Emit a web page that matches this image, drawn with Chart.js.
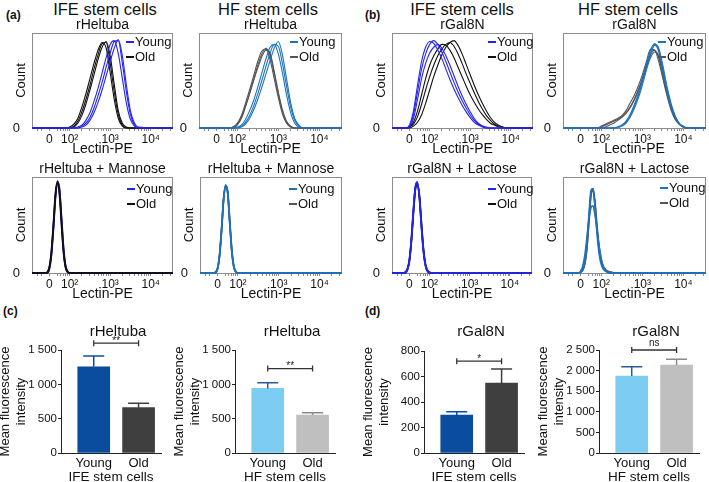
<!DOCTYPE html>
<html>
<head>
<meta charset="utf-8">
<script src="https://cdn.jsdelivr.net/npm/chart.js@4.4.1/dist/chart.umd.min.js"></script>
<style>
  html, body { margin: 0; padding: 0; background: #fff; }
  body { width: 709px; height: 482px; position: relative; overflow: hidden;
         font-family: "Liberation Sans", Arial, Helvetica, sans-serif; color: #111; }
  canvas { position: absolute; }
  .head { position: absolute; top: 0; font-size: 16.5px; line-height: 18px; white-space: nowrap; transform: translateX(-50%); }
  .tag { position: absolute; font-size: 12px; line-height: 12px; font-weight: bold; }
</style>
</head>
<body>
<div class="head" style="left:105px">IFE stem cells</div>
<div class="head" style="left:268px">HF stem cells</div>
<div class="head" style="left:462px">IFE stem cells</div>
<div class="head" style="left:628px">HF stem cells</div>
<div class="tag" style="left:6px;top:9px">(a)</div>
<div class="tag" style="left:365px;top:9px">(b)</div>
<div class="tag" style="left:3px;top:305px">(c)</div>
<div class="tag" style="left:365px;top:305px">(d)</div>

<canvas id="a1" width="165" height="147" style="left:12px;top:11px"></canvas>
<canvas id="a2" width="167" height="147" style="left:179px;top:11px"></canvas>
<canvas id="b1" width="165" height="147" style="left:372px;top:11px"></canvas>
<canvas id="b2" width="167" height="147" style="left:543px;top:11px"></canvas>
<canvas id="a3" width="165" height="148" style="left:12px;top:155px"></canvas>
<canvas id="a4" width="166" height="148" style="left:180px;top:155px"></canvas>
<canvas id="b3" width="164" height="148" style="left:372px;top:155px"></canvas>
<canvas id="b4" width="167" height="148" style="left:543px;top:155px"></canvas>
<canvas id="c1" width="167" height="175" style="left:-2px;top:310px"></canvas>
<canvas id="c2" width="167" height="175" style="left:172px;top:310px"></canvas>
<canvas id="d1" width="167" height="175" style="left:361px;top:310px"></canvas>
<canvas id="d2" width="167" height="175" style="left:536px;top:310px"></canvas>

<script>
// flow axis is in decades: 2 = 10², 3 = 10³, 4 = 10⁴; 1.5 is where the "0" mark sits
const histTickValues = [1.5, 2, 3, 4];
const histTickLabels = ['0', '10²', '10³', '10⁴'];
const xMin = 1.07, xMax = 4.55;

// (a) IFE rHeltuba
const gridA1 = [1.9, 2.0, 2.1, 2.2, 2.3, 2.4, 2.5, 2.6, 2.7, 2.8, 2.9, 3.0, 3.1, 3.2, 3.3, 3.4, 3.5, 3.6, 3.7];
const a1Young = [
  [0, 0, 0, 1, 3, 8, 16, 28, 42, 58, 74, 88, 92, 78, 52, 26, 9, 2, 0],
  [0, 0, 0, 0, 2, 5, 11, 21, 34, 48, 64, 79, 91, 92, 68, 38, 14, 3, 0],
  [0, 0, 0, 0, 1, 3, 8, 16, 27, 40, 55, 70, 84, 93, 76, 45, 18, 5, 1]
];
const a1Old = [
  [0, 1, 4, 10, 22, 36, 52, 68, 82, 90, 84, 58, 30, 10, 2, 0, 0, 0, 0],
  [0, 0, 2, 7, 17, 30, 45, 62, 77, 89, 90, 68, 38, 14, 3, 0, 0, 0, 0],
  [0, 0, 1, 5, 13, 25, 40, 56, 72, 85, 91, 76, 46, 18, 5, 1, 0, 0, 0]
];

// (a) HF rHeltuba
const gridA2 = [1.8, 1.9, 2.0, 2.1, 2.2, 2.3, 2.4, 2.5, 2.6, 2.7, 2.8, 2.9, 3.0, 3.1, 3.2, 3.3, 3.4, 3.5, 3.6];
const a2Young = [
  [0, 0, 1, 3, 9, 18, 29, 43, 58, 73, 85, 88, 78, 58, 35, 16, 5, 1, 0],
  [0, 0, 0, 2, 6, 13, 23, 36, 50, 65, 79, 88, 86, 68, 44, 22, 8, 2, 0],
  [0, 0, 0, 1, 4, 10, 19, 30, 43, 57, 71, 84, 91, 77, 52, 27, 10, 3, 0]
];
const a2Old = [
  [0, 1, 5, 13, 26, 40, 55, 70, 81, 83, 72, 52, 32, 15, 5, 1, 0, 0, 0],
  [0, 0, 3, 10, 22, 36, 51, 66, 78, 84, 77, 57, 36, 18, 6, 1, 0, 0, 0],
  [0, 1, 4, 11, 23, 36, 50, 63, 75, 82, 79, 60, 38, 19, 7, 2, 0, 0, 0]
];

// (b) IFE rGal8N
const gridB1 = [1.4, 1.5, 1.6, 1.7, 1.8, 1.9, 2.0, 2.1, 2.2, 2.3, 2.4, 2.5, 2.6, 2.7,
                2.8, 2.9, 3.0, 3.1, 3.2, 3.3, 3.4, 3.5, 3.6, 3.7, 3.8, 3.9, 4.0];
const b1Young = [
  [0, 3, 18, 45, 70, 85, 91, 89, 82, 73, 62, 51, 41, 32, 24, 17, 11, 6, 3, 1, 0, 0, 0, 0, 0, 0, 0],
  [0, 2, 14, 38, 62, 78, 88, 92, 88, 80, 70, 59, 48, 38, 29, 21, 14, 8, 4, 2, 0, 0, 0, 0, 0, 0, 0],
  [0, 1, 10, 30, 52, 68, 79, 85, 88, 84, 76, 66, 55, 44, 34, 25, 17, 10, 5, 2, 1, 0, 0, 0, 0, 0, 0]
];
const b1Old = [
  [0, 1, 6, 18, 35, 52, 66, 76, 83, 88, 87, 82, 74, 64, 54, 44, 35, 27, 20, 14, 9, 5, 3, 1, 0, 0, 0],
  [0, 1, 4, 12, 25, 40, 54, 66, 76, 83, 88, 90, 86, 78, 68, 57, 47, 37, 28, 20, 13, 8, 4, 2, 1, 0, 0],
  [0, 0, 2, 6, 14, 26, 40, 54, 66, 77, 85, 90, 92, 87, 78, 67, 56, 45, 35, 26, 18, 11, 6, 3, 1, 0, 0]
];

// (b) HF rGal8N
const gridB2 = [1.9, 2.0, 2.1, 2.2, 2.3, 2.4, 2.5, 2.6, 2.7, 2.8, 2.9, 3.0,
                3.1, 3.2, 3.3, 3.4, 3.5, 3.6, 3.7, 3.8, 3.9, 4.0, 4.1, 4.2];
const b2Young = [
  [0, 0, 0, 0, 0, 1, 3, 7, 14, 24, 36, 51, 67, 82, 89, 80, 60, 39, 22, 11, 4, 1, 0, 0],
  [0, 0, 0, 0, 0, 0, 2, 5, 11, 20, 31, 45, 61, 76, 88, 84, 66, 44, 26, 13, 5, 2, 0, 0],
  [0, 0, 0, 0, 0, 1, 3, 6, 12, 22, 34, 48, 64, 79, 87, 82, 62, 41, 24, 12, 5, 1, 0, 0]
];
const b2Old = [
  [0, 2, 4, 6, 8, 10, 13, 18, 26, 34, 44, 56, 70, 83, 82, 70, 52, 34, 19, 9, 4, 1, 0, 0],
  [0, 1, 3, 5, 7, 9, 12, 16, 22, 30, 40, 52, 66, 78, 82, 74, 55, 36, 20, 10, 4, 1, 0, 0],
  [0, 0, 1, 3, 5, 8, 11, 15, 21, 29, 39, 51, 63, 74, 80, 76, 58, 38, 22, 11, 4, 1, 0, 0]
];

// (a) + Mannose
const gridMannose = [1.4, 1.45, 1.5, 1.55, 1.6, 1.65, 1.7, 1.75, 1.8, 1.85, 1.9, 1.95, 2.0];
const a3Young = [
  [0, 1, 6, 22, 50, 82, 96, 84, 52, 22, 6, 1, 0],
  [0, 0, 4, 18, 45, 78, 94, 88, 58, 27, 8, 2, 0]
];
const a3Old = [
  [0, 0, 5, 20, 48, 80, 95, 86, 55, 24, 7, 1, 0],
  [0, 1, 7, 24, 53, 84, 94, 80, 48, 20, 5, 1, 0]
];
const a4Young = [
  [0, 1, 5, 20, 48, 79, 92, 82, 50, 21, 6, 1, 0],
  [0, 0, 4, 17, 44, 76, 91, 85, 55, 25, 7, 2, 0]
];
const a4Old = [
  [0, 1, 5, 19, 46, 78, 91, 83, 52, 22, 6, 1, 0],
  [0, 0, 4, 18, 45, 77, 90, 84, 53, 24, 7, 1, 0]
];

// (b) + Lactose
const gridB3 = [1.35, 1.4, 1.45, 1.5, 1.55, 1.6, 1.65, 1.7, 1.75, 1.8, 1.85, 1.9, 1.95, 2.0, 2.05];
const b3Young = [
  [0, 1, 4, 14, 36, 66, 90, 95, 78, 48, 22, 8, 2, 0, 0],
  [0, 0, 3, 12, 32, 62, 88, 94, 81, 52, 25, 9, 3, 1, 0]
];
const b3Old = [
  [0, 1, 4, 13, 34, 64, 89, 93, 79, 50, 24, 8, 2, 0, 0],
  [0, 0, 3, 11, 31, 60, 86, 92, 82, 54, 27, 10, 3, 1, 0]
];
const gridB4 = [1.4, 1.45, 1.5, 1.55, 1.6, 1.65, 1.7, 1.75, 1.8, 1.85,
                1.9, 1.95, 2.0, 2.05, 2.1, 2.15, 2.2, 2.25, 2.3, 2.35];
const b4Young = [
  [0, 0, 1, 4, 12, 30, 60, 86, 88, 68, 40, 20, 9, 4, 2, 1, 0, 0, 0, 0],
  [0, 0, 2, 7, 18, 36, 56, 68, 70, 60, 44, 28, 15, 7, 3, 1, 0, 0, 0, 0]
];
const b4Old = [
  [0, 0, 1, 3, 10, 26, 55, 82, 86, 70, 45, 24, 12, 6, 3, 2, 1, 0, 0, 0],
  [0, 0, 1, 3, 9, 24, 52, 80, 88, 74, 48, 27, 14, 7, 4, 2, 1, 1, 0, 0]
];

// bar charts: mean fluorescence intensity with upper error
const barCats = ['Young', 'Old'];
const c1Mean = [1255, 660], c1Err = [158, 64];
const c2Mean = [940, 553], c2Err = [82, 34];
const d1Mean = [298, 549], d1Err = [26, 110];
const d2Mean = [1870, 2135], d2Err = [225, 140];

const FONT = '"Liberation Sans", Arial, Helvetica, sans-serif';
Chart.defaults.font.family = FONT;
Chart.defaults.color = '#111';

const IFE_YOUNG = '#2424ee', IFE_OLD = '#111111';
const HF_YOUNG = '#1c72bd', HF_OLD = '#555555';

function histLines(grid, curves, color, label, width) {
  return curves.map(ys => ({
    label: label,
    data: [{x: xMin, y: 0}].concat(grid.map((x, j) => ({x: x, y: ys[j]})), [{x: xMax, y: 0}]),
    borderColor: color,
    borderWidth: width,
    pointRadius: 0,
    fill: false,
    cubicInterpolationMode: 'monotone',
    clip: 3
  }));
}

function histTicks(scale) {
  const t = histTickValues.map(v => ({value: v}));
  [2, 3].forEach(d => { for (let k = 2; k < 10; k++) t.push({value: d + Math.log10(k)}); });
  t.push({value: 4 + Math.log10(2)}, {value: 4 + Math.log10(3)});
  [1.2, 1.3, 1.7, 1.78, 1.85, 1.9, 1.95].forEach(v => t.push({value: v}));
  scale.ticks = t.sort((a, b) => a.value - b.value);
}

const histDecor = {
  id: 'histDecor',
  beforeDatasetsDraw(chart) {
    const {ctx, chartArea: a} = chart;
    ctx.save();
    ctx.strokeStyle = '#8c8c8c';
    ctx.lineWidth = 1;
    ctx.strokeRect(a.left + 0.5, a.top + 0.5, a.width - 1, a.height);
    ctx.restore();
  },
  afterDraw(chart, args, o) {
    const {ctx, chartArea: a} = chart;
    ctx.save();
    ctx.fillStyle = '#111';
    ctx.textAlign = 'center';
    ctx.textBaseline = 'middle';
    ctx.font = '14px ' + FONT;
    ctx.fillText(o.title, (a.left + a.right) / 2, a.top - 8);
    ctx.font = '13px ' + FONT;
    ctx.textAlign = 'left';
    o.rows.forEach((r, i) => {
      const y = a.top + o.legendY + i * 15;
      const x = a.left + o.legendX;
      ctx.strokeStyle = r[1];
      ctx.lineWidth = 2;
      ctx.beginPath();
      ctx.moveTo(x, y);
      ctx.lineTo(x + 8, y);
      ctx.stroke();
      ctx.fillText(r[0], x + 9, y + 0.5);
    });
    ctx.restore();
  }
};

function makeHist(id, p) {
  const w = p.lineWidth || 1.1;
  const young = histLines(p.grid, p.young, p.youngColor, 'Young', w);
  const old = histLines(p.grid, p.old, p.oldColor, 'Old', w);
  new Chart(document.getElementById(id), {
    type: 'line',
    data: {datasets: p.oldOnTop ? old.concat(young) : young.concat(old)},
    options: {
      responsive: false,
      animation: false,
      events: [],
      layout: {padding: {top: 22, right: 4, left: 0, bottom: 0}},
      plugins: {
        legend: {display: false},
        tooltip: {enabled: false},
        histDecor: {title: p.title, legendX: p.legendX, legendY: p.legendY,
                    rows: [['Young', p.youngColor], ['Old', p.oldColor]]}
      },
      scales: {
        x: {
          type: 'linear', min: xMin, max: xMax,
          afterBuildTicks: histTicks,
          afterFit: s => { s.height = 30; },
          grid: {drawOnChartArea: false, drawTicks: true, tickLength: 3, color: '#8c8c8c'},
          border: {display: false},
          ticks: {
            autoSkip: false, maxRotation: 0, padding: 1, font: {size: 12},
            callback: v => { const i = histTickValues.indexOf(v); return i < 0 ? '' : histTickLabels[i]; }
          },
          title: {display: true, text: 'Lectin-PE', font: {size: 14}, padding: 0}
        },
        y: {
          min: 0, max: 100,
          afterBuildTicks: s => { s.ticks = [{value: 0}]; },
          afterFit: s => { s.width = 20; },
          grid: {display: false},
          border: {display: false},
          ticks: {padding: 4, font: {size: 13}},
          title: {display: true, text: 'Count', font: {size: 13}, padding: {top: 2, bottom: 0}}
        }
      }
    },
    plugins: [histDecor]
  });
}

makeHist('a1', {grid: gridA1, young: a1Young, old: a1Old, youngColor: IFE_YOUNG, oldColor: IFE_OLD,
                title: 'rHeltuba', legendX: 94, legendY: 9});
makeHist('a2', {grid: gridA2, young: a2Young, old: a2Old, youngColor: HF_YOUNG, oldColor: HF_OLD,
                title: 'rHeltuba', legendX: 91, legendY: 9});
makeHist('b1', {grid: gridB1, young: b1Young, old: b1Old, youngColor: IFE_YOUNG, oldColor: IFE_OLD,
                title: 'rGal8N', legendX: 96, legendY: 9});
makeHist('b2', {grid: gridB2, young: b2Young, old: b2Old, youngColor: HF_YOUNG, oldColor: HF_OLD,
                title: 'rGal8N', legendX: 95, legendY: 9});
makeHist('a3', {grid: gridMannose, young: a3Young, old: a3Old, youngColor: IFE_YOUNG, oldColor: IFE_OLD,
                title: 'rHeltuba + Mannose', legendX: 95, legendY: 12, oldOnTop: true, lineWidth: 1.6});
makeHist('a4', {grid: gridMannose, young: a4Young, old: a4Old, youngColor: HF_YOUNG, oldColor: HF_OLD,
                title: 'rHeltuba + Mannose', legendX: 89, legendY: 12, lineWidth: 1.6});
makeHist('b3', {grid: gridB3, young: b3Young, old: b3Old, youngColor: IFE_YOUNG, oldColor: IFE_OLD,
                title: 'rGal8N + Lactose', legendX: 96, legendY: 12, lineWidth: 1.6});
makeHist('b4', {grid: gridB4, young: b4Young, old: b4Old, youngColor: HF_YOUNG, oldColor: HF_OLD,
                title: 'rGal8N + Lactose', legendX: 97, legendY: 11, lineWidth: 1.6});

function thousands(v) {
  return v >= 1000 ? Math.floor(v / 1000) + ' ' + String(v % 1000).padStart(3, '0') : String(v);
}

const barDecor = {
  id: 'barDecor',
  afterDatasetsDraw(chart, args, o) {
    const {ctx, chartArea: a, scales: {x, y}} = chart;
    ctx.save();
    ctx.lineWidth = 1.5;
    o.mean.forEach((m, i) => {
      const px = x.getPixelForValue(i + 1);
      const top = y.getPixelForValue(m + o.err[i]);
      ctx.strokeStyle = o.errColors[i];
      ctx.beginPath();
      ctx.moveTo(px, y.getPixelForValue(m));
      ctx.lineTo(px, top);
      ctx.moveTo(px - 10.5, top);
      ctx.lineTo(px + 10.5, top);
      ctx.stroke();
    });
    const sy = y.getPixelForValue(o.sigAt);
    const x1 = x.getPixelForValue(1), x2 = x.getPixelForValue(2);
    ctx.strokeStyle = '#333';
    ctx.lineWidth = 1.3;
    ctx.beginPath();
    ctx.moveTo(x1, sy); ctx.lineTo(x2, sy);
    ctx.moveTo(x1, sy - 3); ctx.lineTo(x1, sy + 3);
    ctx.moveTo(x2, sy - 3); ctx.lineTo(x2, sy + 3);
    ctx.stroke();
    ctx.fillStyle = '#222';
    ctx.textAlign = 'center';
    ctx.textBaseline = 'alphabetic';
    ctx.font = '10px ' + FONT;
    ctx.fillText(o.sig, (x1 + x2) / 2, o.sig === 'ns' ? sy - 4 : sy + 0.5);
    ctx.fillStyle = '#111';
    ctx.textBaseline = 'middle';
    ctx.font = '15px ' + FONT;
    ctx.fillText(o.title, (a.left + a.right) / 2 + 7, 22);
    ctx.restore();
  }
};

function makeBar(id, p) {
  new Chart(document.getElementById(id), {
    type: 'bar',
    data: {
      datasets: [{
        data: p.mean.map((v, i) => ({x: i + 1, y: v})),
        backgroundColor: p.colors,
        borderWidth: 0,
        barThickness: 32
      }]
    },
    options: {
      responsive: false,
      animation: false,
      events: [],
      layout: {padding: {top: p.padTop, right: 4, left: 0, bottom: 0}},
      plugins: {
        legend: {display: false},
        tooltip: {enabled: false},
        barDecor: {mean: p.mean, err: p.err, errColors: p.errColors, sig: p.sig, sigAt: p.sigAt, title: p.title}
      },
      scales: {
        x: {
          type: 'linear', min: 0.27, max: 2.5, offset: false,
          afterBuildTicks: s => { s.ticks = barCats.map((c, i) => ({value: i + 1})); },
          afterFit: s => { s.height = 32; },
          grid: {display: false, drawTicks: false, offset: false},
          border: {display: true, color: '#222', width: 1},
          ticks: {autoSkip: false, maxRotation: 0, padding: 3, font: {size: 13}, callback: v => barCats[v - 1]},
          title: {display: true, text: p.group, font: {size: 13.5}, padding: 0}
        },
        y: {
          min: 0, max: p.max,
          afterFit: s => { s.width = 63; },
          grid: {drawOnChartArea: false, drawTicks: true, tickLength: 3, color: '#222'},
          border: {display: true, color: '#222', width: 1},
          ticks: {stepSize: p.step, padding: 1, font: {size: 11.5}, callback: v => thousands(v)},
          title: {display: true, text: ['Mean fluorescence', 'intensity'], font: {size: 13, lineHeight: 1.2}, padding: 0}
        }
      }
    },
    plugins: [barDecor]
  });
}

makeBar('c1', {mean: c1Mean, err: c1Err, colors: ['#0a4d9e', '#3f3f3f'], errColors: ['#0a4d9e', '#3f3f3f'],
               max: 1500, step: 500, sig: '**', sigAt: 1600, title: 'rHeltuba', group: 'IFE stem cells', padTop: 40});
makeBar('c2', {mean: c2Mean, err: c2Err, colors: ['#7dcdf2', '#bfbfbf'], errColors: ['#2a5d95', '#8a8a8a'],
               max: 1500, step: 500, sig: '**', sigAt: 1230, title: 'rHeltuba', group: 'HF stem cells', padTop: 40});
makeBar('d1', {mean: d1Mean, err: d1Err, colors: ['#0a4d9e', '#3f3f3f'], errColors: ['#0a4d9e', '#3f3f3f'],
               max: 800, step: 200, sig: '*', sigAt: 720, title: 'rGal8N', group: 'IFE stem cells', padTop: 41});
makeBar('d2', {mean: d2Mean, err: d2Err, colors: ['#7dcdf2', '#bfbfbf'], errColors: ['#2a5d95', '#8a8a8a'],
               max: 2500, step: 500, sig: 'ns', sigAt: 2500, title: 'rGal8N', group: 'HF stem cells', padTop: 40});
</script>
</body>
</html>
